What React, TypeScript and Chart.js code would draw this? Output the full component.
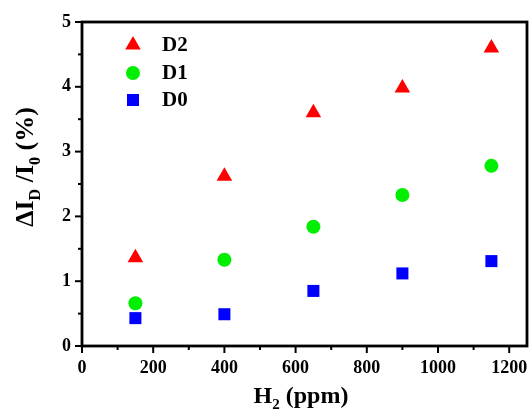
import React, { useEffect, useRef } from "react";
import { Chart, registerables } from "chart.js";

Chart.register(...registerables);

const xValues = [150, 400, 650, 900, 1150];
const d2Values = [1.36, 2.62, 3.6, 3.98, 4.6];
const d1Values = [0.66, 1.33, 1.84, 2.33, 2.78];
const d0Values = [0.43, 0.49, 0.85, 1.12, 1.31];
const seriesNames = ["D2", "D1", "D0"];
const xMajorTicks = [0, 200, 400, 600, 800, 1000, 1200];
const yMajorTicks = [0, 1, 2, 3, 4, 5];

const FONT = "'Liberation Serif', 'Times New Roman', serif";

type Part = { t: string; sub?: boolean };

function drawRich(ctx: CanvasRenderingContext2D, parts: Part[], size: number, subSize: number, subDrop: number) {
  ctx.textBaseline = "alphabetic";
  ctx.textAlign = "left";
  let total = 0;
  const widths = parts.map((p) => {
    ctx.font = `bold ${p.sub ? subSize : size}px ${FONT}`;
    const w = ctx.measureText(p.t).width;
    total += w;
    return w;
  });
  let x = -total / 2;
  parts.forEach((p, i) => {
    ctx.font = `bold ${p.sub ? subSize : size}px ${FONT}`;
    ctx.fillText(p.t, x, p.sub ? subDrop : 0);
    x += widths[i];
  });
}

function drawMarker(ctx: CanvasRenderingContext2D, style: string, x: number, y: number, color: string) {
  ctx.save();
  ctx.fillStyle = color;
  ctx.beginPath();
  if (style === "triangle") {
    const r = 9;
    ctx.moveTo(x, y - r);
    ctx.lineTo(x + r * 0.866, y + r * 0.5);
    ctx.lineTo(x - r * 0.866, y + r * 0.5);
    ctx.closePath();
  } else if (style === "circle") {
    ctx.arc(x, y, 7, 0, Math.PI * 2);
  } else {
    ctx.rect(x - 6, y - 6, 12, 12);
  }
  ctx.fill();
  ctx.restore();
}

const framePlugin = {
  id: "frameAndTitles",
  afterDraw(chart: any) {
    const ctx: CanvasRenderingContext2D = chart.ctx;
    const { left, right, top, bottom } = chart.chartArea;
    const xs = chart.scales.x;
    const ys = chart.scales.y;
    ctx.save();
    ctx.strokeStyle = "#000";
    ctx.lineWidth = 2.8;
    ctx.strokeRect(left, top, right - left, bottom - top);
    ctx.lineWidth = 2;
    for (let v = 0; v <= 1200; v += 100) {
      const px = xs.getPixelForValue(v);
      const len = v % 200 === 0 ? 7 : 4;
      ctx.beginPath();
      ctx.moveTo(px, bottom);
      ctx.lineTo(px, bottom + len);
      ctx.stroke();
    }
    for (let v = 0; v <= 5; v += 0.5) {
      const py = ys.getPixelForValue(v);
      const len = Math.abs(v - Math.round(v)) < 1e-6 ? 7 : 4;
      ctx.beginPath();
      ctx.moveTo(left, py);
      ctx.lineTo(left - len, py);
      ctx.stroke();
    }
    ctx.fillStyle = "#000";
    ctx.font = `bold 18px ${FONT}`;
    ctx.textAlign = "center";
    ctx.textBaseline = "middle";
    xMajorTicks.forEach((v) => {
      ctx.fillText(String(v), xs.getPixelForValue(v), bottom + 22);
    });
    ctx.textAlign = "right";
    yMajorTicks.forEach((v) => {
      ctx.fillText(String(v), left - 11, ys.getPixelForValue(v));
    });
    ctx.save();
    ctx.translate(301, 403);
    drawRich(ctx, [{ t: "H" }, { t: "2", sub: true }, { t: " (ppm)" }], 24, 15, 6);
    ctx.restore();
    ctx.save();
    ctx.translate(33, 167);
    ctx.rotate(-Math.PI / 2);
    drawRich(
      ctx,
      [{ t: "\u0394I" }, { t: "D", sub: true }, { t: " /I" }, { t: "0", sub: true }, { t: " (%)" }],
      26,
      16,
      7
    );
    ctx.restore();
    const ds = chart.data.datasets;
    const rows = [45, 73, 100];
    ds.forEach((d: any, i: number) => {
      drawMarker(ctx, d.pointStyle, 133, rows[i], d.backgroundColor);
      ctx.fillStyle = "#000";
      ctx.font = `bold 21px ${FONT}`;
      ctx.textAlign = "left";
      ctx.textBaseline = "middle";
      ctx.fillText(d.label, 162, rows[i] + 1);
    });
    ctx.restore();
  },
};

export default function App() {
  const ref = useRef<HTMLCanvasElement>(null);
  useEffect(() => {
    if (!ref.current) return;
    const mk = (vals: number[]) => xValues.map((x, i) => ({ x, y: vals[i] }));
    const chart = new Chart(ref.current, {
      type: "scatter",
      data: {
        datasets: [
          { label: seriesNames[0], data: mk(d2Values), pointStyle: "triangle", pointRadius: 9, backgroundColor: "#ff0000", borderWidth: 0 },
          { label: seriesNames[1], data: mk(d1Values), pointStyle: "circle", pointRadius: 7, backgroundColor: "#00ee00", borderWidth: 0 },
          { label: seriesNames[2], data: mk(d0Values), pointStyle: "rect", pointRadius: 8.5, backgroundColor: "#0000ff", borderWidth: 0 },
        ],
      },
      options: {
        responsive: false,
        animation: false,
        layout: { autoPadding: false, padding: { left: 0, top: 22, right: 3, bottom: 0 } },
        plugins: { legend: { display: false }, tooltip: { enabled: false } },
        scales: {
          x: {
            type: "linear",
            min: 0,
            max: 1250,
            afterFit: (s: any) => { s.height = 64; },
            grid: { display: false, drawTicks: false },
            border: { display: false },
            ticks: { display: false },
          },
          y: {
            type: "linear",
            min: 0,
            max: 5,
            afterFit: (s: any) => { s.width = 82; },
            grid: { display: false, drawTicks: false },
            border: { display: false },
            ticks: { display: false },
          },
        },
      },
      plugins: [framePlugin],
    } as any);
    return () => chart.destroy();
  }, []);
  return (
    <div style={{ position: "absolute", left: 0, top: 0, width: 530, height: 410, background: "#fff" }}>
      <canvas ref={ref} width={530} height={410} />
    </div>
  );
}
